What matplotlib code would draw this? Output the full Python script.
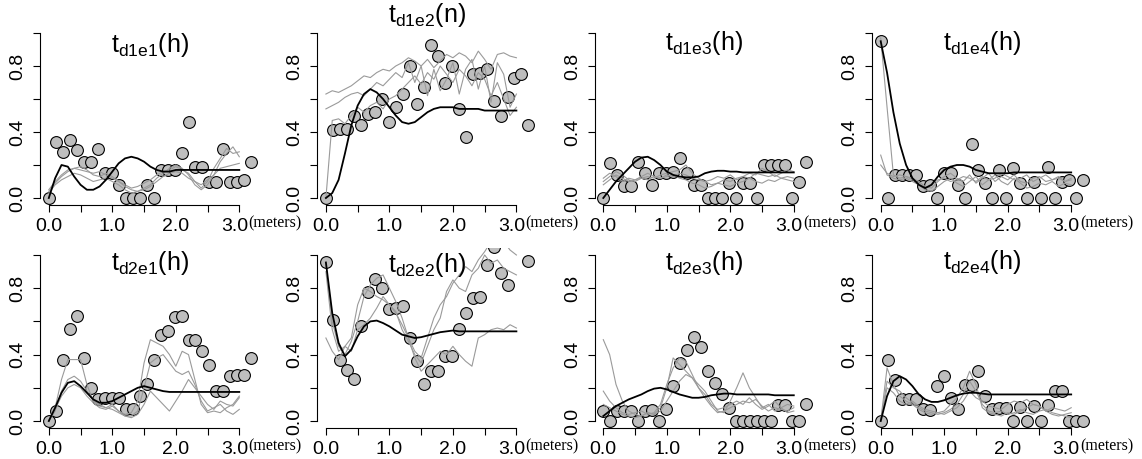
"""Observed values, smooth fit and simulated curves for eight panels."""

from matplotlib import pyplot as plt
from matplotlib import transforms
import numpy as np

plt.rcParams['font.family'] = ['Liberation Sans', 'DejaVu Sans']
plt.rcParams['mathtext.default'] = 'regular'

# distances (meters)
x_pts = np.arange(30) * 0.11
x_line = np.arange(31) * 0.1

titles = ['$t_{d1e1}(h)$', '$t_{d1e2}(n)$', '$t_{d1e3}(h)$', '$t_{d1e4}(h)$',
          '$t_{d2e1}(h)$', '$t_{d2e2}(h)$', '$t_{d2e3}(h)$', '$t_{d2e4}(h)$']

# observed points
pts_d1e1 = [0.0, 0.34, 0.28, 0.35, 0.29, 0.22, 0.22, 0.30, 0.15, 0.15,
            0.08, 0.0, 0.0, 0.0, 0.08, 0.0, 0.17, 0.17, 0.17, 0.27,
            0.46, 0.19, 0.19, 0.10, 0.10, 0.30, 0.10, 0.10, 0.11, 0.22]
pts_d1e2 = [0.0, 0.41, 0.42, 0.42, 0.50, 0.44, 0.51, 0.52, 0.60, 0.46,
            0.55, 0.63, 0.80, 0.57, 0.67, 0.93, 0.86, 0.70, 0.80, 0.54,
            0.37, 0.75, 0.76, 0.78, 0.59, 0.50, 0.61, 0.73, 0.75, 0.44]
pts_d1e3 = [0.0, 0.21, 0.14, 0.07, 0.07, 0.22, 0.15, 0.08, 0.15, 0.15,
            0.16, 0.24, 0.15, 0.08, 0.08, 0.0, 0.0, 0.0, 0.09, 0.0,
            0.09, 0.09, 0.0, 0.20, 0.20, 0.20, 0.20, 0.0, 0.10, 0.22]
pts_d1e4 = [0.95, 0.0, 0.14, 0.14, 0.14, 0.14, 0.07, 0.08, 0.0, 0.15,
            0.15, 0.08, 0.0, 0.33, 0.17, 0.09, 0.0, 0.17, 0.0, 0.18,
            0.09, 0.0, 0.10, 0.0, 0.19, 0.0, 0.10, 0.11, 0.0, 0.11]
pts_d2e1 = [0.0, 0.06, 0.37, 0.555, 0.63, 0.38, 0.20, 0.13, 0.14, 0.14,
            0.14, 0.07, 0.07, 0.15, 0.22, 0.37, 0.52, 0.54, 0.625, 0.635,
            0.49, 0.49, 0.42, 0.34, 0.18, 0.18, 0.27, 0.28, 0.28, 0.38]
pts_d2e2 = [0.955, 0.61, 0.37, 0.31, 0.25, 0.57, 0.775, 0.855, 0.80, 0.675,
            0.68, 0.695, 0.50, 0.36, 0.22, 0.30, 0.30, 0.39, 0.39, 0.555,
            0.65, 0.74, 0.75, 0.94, 1.05, 0.89, 0.82, 1.12, 1.10, 0.965]
pts_d2e3 = [0.06, 0.0, 0.06, 0.06, 0.06, 0.0, 0.06, 0.065, 0.0, 0.07,
            0.21, 0.35, 0.43, 0.505, 0.445, 0.30, 0.23, 0.16, 0.08, 0.0,
            0.0, 0.0, 0.0, 0.0, 0.0, 0.095, 0.095, 0.0, 0.0, 0.10]
pts_d2e4 = [0.0, 0.37, 0.245, 0.13, 0.13, 0.13, 0.07, 0.065, 0.21, 0.27,
            0.14, 0.075, 0.215, 0.215, 0.30, 0.15, 0.075, 0.08, 0.08, 0.0,
            0.085, 0.0, 0.09, 0.0, 0.095, 0.18, 0.18, 0.0, 0.0, 0.0]

# smooth fitted curves (black)
fit_d1e1 = [0.0, 0.12, 0.20, 0.19, 0.13, 0.08, 0.05, 0.05, 0.07, 0.11,
            0.16, 0.21, 0.24, 0.25, 0.24, 0.22, 0.19, 0.17, 0.16, 0.16,
            0.17, 0.17, 0.17, 0.17, 0.17, 0.17, 0.17, 0.17, 0.17, 0.17, 0.17]
fit_d1e2 = [0.0, 0.03, 0.11, 0.27, 0.44, 0.56, 0.63, 0.66, 0.64, 0.60,
            0.55, 0.50, 0.46, 0.45, 0.46, 0.49, 0.52, 0.54, 0.55, 0.55,
            0.55, 0.54, 0.54, 0.54, 0.54, 0.53, 0.53, 0.53, 0.53, 0.53, 0.53]
fit_d1e3 = [0.0, 0.05, 0.10, 0.14, 0.18, 0.22, 0.245, 0.25, 0.23, 0.20,
            0.16, 0.14, 0.13, 0.125, 0.125, 0.13, 0.15, 0.16, 0.165, 0.165,
            0.16, 0.16, 0.155, 0.155, 0.155, 0.155, 0.155, 0.155, 0.155, 0.155, 0.155]
fit_d1e4 = [0.95, 0.76, 0.52, 0.33, 0.20, 0.12, 0.08, 0.06, 0.08, 0.13,
            0.17, 0.19, 0.20, 0.20, 0.19, 0.17, 0.16, 0.15, 0.15, 0.15,
            0.15, 0.155, 0.155, 0.155, 0.155, 0.155, 0.155, 0.155, 0.155, 0.155, 0.155]
fit_d2e1 = [0.0, 0.08, 0.17, 0.23, 0.24, 0.21, 0.17, 0.13, 0.11, 0.11,
            0.12, 0.14, 0.16, 0.18, 0.20, 0.21, 0.20, 0.19, 0.18, 0.175,
            0.175, 0.175, 0.175, 0.175, 0.175, 0.175, 0.175, 0.175, 0.175, 0.175, 0.175]
fit_d2e2 = [0.955, 0.65, 0.47, 0.39, 0.43, 0.51, 0.57, 0.60, 0.605, 0.59,
            0.57, 0.545, 0.52, 0.51, 0.50, 0.505, 0.515, 0.525, 0.535, 0.54,
            0.545, 0.54, 0.54, 0.54, 0.54, 0.54, 0.54, 0.54, 0.54, 0.54, 0.54]
fit_d2e3 = [0.03, 0.06, 0.09, 0.11, 0.13, 0.145, 0.16, 0.18, 0.195, 0.20,
            0.19, 0.175, 0.16, 0.15, 0.14, 0.14, 0.145, 0.155, 0.16, 0.165,
            0.165, 0.16, 0.16, 0.16, 0.16, 0.16, 0.16, 0.155, 0.155, 0.155, 0.155]
fit_d2e4 = [0.0, 0.15, 0.24, 0.27, 0.25, 0.21, 0.16, 0.13, 0.115, 0.115,
            0.125, 0.14, 0.155, 0.165, 0.17, 0.17, 0.165, 0.16, 0.16, 0.16,
            0.16, 0.16, 0.16, 0.16, 0.16, 0.16, 0.16, 0.16, 0.16, 0.16, 0.16]

# simulated curves (grey)
sim_d1e1 = [
    [0.05, 0.10, 0.14, 0.17, 0.18, 0.17, 0.16, 0.15, 0.16, 0.14, 0.12, 0.10, 0.08, 0.06, 0.07, 0.09,
     0.11, 0.14, 0.16, 0.17, 0.19, 0.17, 0.15, 0.10, 0.06, 0.10, 0.18, 0.24, 0.30, 0.27, 0.28],
    [0.04, 0.09, 0.13, 0.16, 0.18, 0.19, 0.17, 0.14, 0.13, 0.15, 0.13, 0.10, 0.07, 0.05, 0.04, 0.06,
     0.08, 0.12, 0.15, 0.18, 0.20, 0.18, 0.14, 0.08, 0.05, 0.08, 0.14, 0.22, 0.27, 0.31, 0.25],
    [0.03, 0.08, 0.11, 0.13, 0.15, 0.14, 0.12, 0.10, 0.11, 0.12, 0.10, 0.08, 0.05, 0.03, 0.04, 0.05,
     0.07, 0.10, 0.13, 0.15, 0.16, 0.15, 0.12, 0.10, 0.08, 0.11, 0.14, 0.18, 0.19, 0.20, 0.21],
]
sim_d1e2 = [
    [0.63, 0.65, 0.64, 0.66, 0.68, 0.71, 0.74, 0.73, 0.76, 0.78, 0.77, 0.80, 0.82, 0.85, 0.83, 0.80,
     0.84, 0.79, 0.83, 0.87, 0.85, 0.88, 0.86, 0.82, 0.89, 0.84, 0.78, 0.87, 0.88, 0.86, 0.85],
    [0.54, 0.56, 0.58, 0.61, 0.63, 0.64, 0.62, 0.66, 0.70, 0.68, 0.72, 0.76, 0.73, 0.82, 0.70, 0.80,
     0.62, 0.78, 0.65, 0.72, 0.82, 0.63, 0.78, 0.84, 0.66, 0.80, 0.58, 0.82, 0.75, 0.55, 0.63],
    [0.0, 0.47, 0.48, 0.45, 0.50, 0.55, 0.52, 0.56, 0.58, 0.54, 0.60, 0.62, 0.66, 0.70, 0.74, 0.69,
     0.76, 0.72, 0.80, 0.75, 0.70, 0.78, 0.74, 0.68, 0.76, 0.72, 0.62, 0.70, 0.60, 0.50, 0.55],
]
sim_d1e3 = [
    [0.10, 0.13, 0.16, 0.14, 0.11, 0.10, 0.12, 0.13, 0.12, 0.14, 0.15, 0.16, 0.17, 0.20, 0.15, 0.12,
     0.10, 0.08, 0.09, 0.11, 0.10, 0.12, 0.13, 0.15, 0.14, 0.18, 0.16, 0.13, 0.15, 0.17, 0.16],
    [0.08, 0.11, 0.14, 0.12, 0.10, 0.11, 0.12, 0.11, 0.13, 0.12, 0.13, 0.14, 0.12, 0.11, 0.09, 0.08,
     0.06, 0.07, 0.09, 0.08, 0.07, 0.09, 0.10, 0.12, 0.10, 0.09, 0.11, 0.10, 0.12, 0.11, 0.10],
    [0.12, 0.15, 0.13, 0.10, 0.12, 0.11, 0.13, 0.15, 0.13, 0.12, 0.14, 0.13, 0.15, 0.14, 0.12, 0.11,
     0.10, 0.11, 0.13, 0.12, 0.14, 0.11, 0.13, 0.12, 0.15, 0.14, 0.13, 0.14, 0.12, 0.13, 0.12],
]
sim_d1e4 = [
    [0.97, 0.55, 0.14, 0.12, 0.13, 0.12, 0.10, 0.07, 0.06, 0.10, 0.13, 0.15, 0.12, 0.10, 0.14, 0.09,
     0.12, 0.15, 0.10, 0.13, 0.11, 0.14, 0.10, 0.09, 0.12, 0.13, 0.10, 0.11, 0.13, 0.10, 0.11],
    [0.26, 0.14, 0.12, 0.11, 0.12, 0.10, 0.08, 0.05, 0.04, 0.07, 0.10, 0.12, 0.09, 0.07, 0.10, 0.13,
     0.08, 0.11, 0.14, 0.10, 0.08, 0.12, 0.09, 0.06, 0.07, 0.09, 0.08, 0.10, 0.07, 0.09, 0.08],
    [0.20, 0.15, 0.13, 0.14, 0.13, 0.11, 0.09, 0.06, 0.08, 0.11, 0.12, 0.10, 0.11, 0.13, 0.12, 0.10,
     0.13, 0.11, 0.12, 0.15, 0.13, 0.11, 0.12, 0.14, 0.10, 0.12, 0.14, 0.11, 0.12, 0.10, 0.12],
]
sim_d2e1 = [
    [0.0, 0.08, 0.25, 0.37, 0.37, 0.37, 0.22, 0.12, 0.10, 0.08, 0.10, 0.06, 0.04, 0.05, 0.12, 0.35,
     0.49, 0.47, 0.45, 0.40, 0.33, 0.42, 0.40, 0.25, 0.10, 0.05, 0.06, 0.05, 0.08, 0.10, 0.15],
    [0.0, 0.06, 0.18, 0.25, 0.27, 0.24, 0.18, 0.12, 0.09, 0.08, 0.07, 0.05, 0.03, 0.03, 0.06, 0.20,
     0.35, 0.38, 0.40, 0.35, 0.30, 0.28, 0.30, 0.22, 0.12, 0.06, 0.08, 0.10, 0.06, 0.04, 0.07],
    [0.0, 0.07, 0.15, 0.20, 0.22, 0.20, 0.15, 0.11, 0.08, 0.07, 0.09, 0.06, 0.03, 0.02, 0.04, 0.10,
     0.18, 0.14, 0.10, 0.06, 0.12, 0.18, 0.25, 0.20, 0.15, 0.10, 0.07, 0.12, 0.10, 0.09, 0.14],
]
sim_d2e2 = [
    [0.95, 0.60, 0.45, 0.40, 0.48, 0.60, 0.75, 0.82, 0.86, 0.88, 0.80, 0.72, 0.62, 0.50, 0.42, 0.38,
     0.50, 0.62, 0.70, 0.75, 0.83, 0.88, 0.93, 0.90, 0.97, 1.02, 1.08, 1.10, 1.08, 1.03, 1.00],
    [0.50, 0.42, 0.37, 0.45, 0.42, 0.55, 0.58, 0.62, 0.68, 0.75, 0.70, 0.65, 0.58, 0.50, 0.38, 0.30,
     0.34, 0.38, 0.42, 0.40, 0.45, 0.40, 0.36, 0.33, 0.50, 0.52, 0.55, 0.56, 0.55, 0.58, 0.56],
    [0.90, 0.55, 0.42, 0.45, 0.50, 0.70, 0.80, 0.78, 0.75, 0.73, 0.70, 0.66, 0.55, 0.48, 0.40, 0.35,
     0.45, 0.55, 0.62, 0.78, 0.85, 0.80, 0.78, 0.88, 0.92, 1.00, 0.95, 0.97, 0.92, 0.90, 0.88],
]
sim_d2e3 = [
    [0.49, 0.40, 0.22, 0.12, 0.06, 0.04, 0.03, 0.05, 0.04, 0.08, 0.20, 0.38, 0.34, 0.30, 0.26, 0.22,
     0.18, 0.12, 0.06, 0.05, 0.12, 0.20, 0.29, 0.20, 0.14, 0.08, 0.10, 0.06, 0.08, 0.05, 0.06],
    [0.18, 0.12, 0.08, 0.05, 0.04, 0.05, 0.06, 0.04, 0.05, 0.10, 0.22, 0.32, 0.38, 0.36, 0.28, 0.20,
     0.16, 0.10, 0.07, 0.08, 0.10, 0.12, 0.10, 0.14, 0.10, 0.07, 0.09, 0.12, 0.08, 0.10, 0.09],
    [0.10, 0.08, 0.06, 0.04, 0.03, 0.02, 0.03, 0.05, 0.04, 0.06, 0.12, 0.18, 0.24, 0.28, 0.26, 0.20,
     0.14, 0.09, 0.05, 0.06, 0.08, 0.10, 0.12, 0.11, 0.13, 0.09, 0.06, 0.08, 0.07, 0.06, 0.08],
]
sim_d2e4 = [
    [0.0, 0.32, 0.22, 0.15, 0.12, 0.10, 0.07, 0.05, 0.04, 0.05, 0.06, 0.10, 0.14, 0.20, 0.30, 0.22,
     0.08, 0.05, 0.04, 0.03, 0.05, 0.04, 0.06, 0.08, 0.10, 0.09, 0.06, 0.04, 0.03, 0.04, 0.05],
    [0.0, 0.24, 0.20, 0.18, 0.14, 0.11, 0.08, 0.06, 0.05, 0.04, 0.05, 0.07, 0.10, 0.16, 0.24, 0.18,
     0.10, 0.06, 0.05, 0.06, 0.04, 0.05, 0.07, 0.05, 0.04, 0.06, 0.07, 0.05, 0.04, 0.03, 0.02],
    [0.0, 0.20, 0.17, 0.12, 0.10, 0.12, 0.09, 0.07, 0.06, 0.05, 0.04, 0.06, 0.08, 0.12, 0.18, 0.14,
     0.12, 0.09, 0.08, 0.07, 0.10, 0.12, 0.11, 0.13, 0.10, 0.09, 0.06, 0.08, 0.07, 0.06, 0.08],
]

points = [pts_d1e1, pts_d1e2, pts_d1e3, pts_d1e4, pts_d2e1, pts_d2e2, pts_d2e3, pts_d2e4]
fits = [fit_d1e1, fit_d1e2, fit_d1e3, fit_d1e4, fit_d2e1, fit_d2e2, fit_d2e3, fit_d2e4]
sims = [sim_d1e1, sim_d1e2, sim_d1e3, sim_d1e4, sim_d2e1, sim_d2e2, sim_d2e3, sim_d2e4]

# layout in pixels
W, H = 1142, 459
zero_x = [48.8, 325.9, 603.3, 880.7]
px_unit = 63.5
rows = [(198.0, 33.0), (421.0, 255.0)]   # pixel y of 0.0 and 1.0
title_y = [45, 15, 43, 43, 263, 265, 263, 262]
xlo, xhi = -0.134, 3.32
ylo, yhi = -0.04, 1.04

fig = plt.figure(figsize=(W / 100, H / 100), dpi=100)

for i in range(8):
    r, c = divmod(i, 4)
    y0, y1 = rows[r]
    py = y0 - y1
    left = zero_x[c] + xlo * px_unit
    right = zero_x[c] + xhi * px_unit
    bottom = y0 - ylo * py
    top = y0 - yhi * py
    ax = fig.add_axes([left / W, 1 - bottom / H, (right - left) / W, (bottom - top) / H])

    ax.plot(x_pts, points[i], 'o', ms=8.5, mfc='#bebebe', mec='black', mew=0.8, zorder=2)
    for s in sims[i]:
        ax.plot(x_line, s, color='#9a9a9a', lw=0.8, zorder=3)
    ax.plot(x_line, fits[i], color='black', lw=1.3, zorder=4)

    ax.set_xlim(xlo, xhi)
    ax.set_ylim(ylo, yhi)
    for side in ['top', 'right']:
        ax.spines[side].set_visible(False)
    ax.spines['left'].set_bounds(0, 1)
    ax.spines['bottom'].set_bounds(0, 3)
    ax.set_yticks(np.arange(6) * 0.2)
    ax.set_yticklabels(['0.0', '', '0.4', '', '0.8', ''], rotation=90, va='center')
    ax.set_xticks(np.arange(7) * 0.5)
    ax.set_xticklabels(['0.0', '', '1.0', '', '2.0', '', '3.0'])
    ax.tick_params(direction='out', length=5, width=0.8, labelsize=14)
    ax.tick_params(axis='y', pad=5)
    ax.tick_params(axis='x', pad=4.5)
    ax.patch.set_alpha(0)
    # last x label sits a little left of its tick
    lab = ax.get_xticklabels()[-1]
    lab.set_transform(lab.get_transform() + transforms.ScaledTranslation(-5 / 100, 0, fig.dpi_scale_trans))

    cx = (left + right) / 2
    fig.text(cx / W, 1 - title_y[i] / H, titles[i], fontsize=18,
             ha='center', va='center')
    lab_y = bottom + 19
    fig.text((zero_x[c] + 3.0 * px_unit + 9) / W, 1 - lab_y / H, '(meters)',
             family='Liberation Serif', fontsize=11.5, ha='left', va='center')

fig.savefig('out.png', dpi=100)
